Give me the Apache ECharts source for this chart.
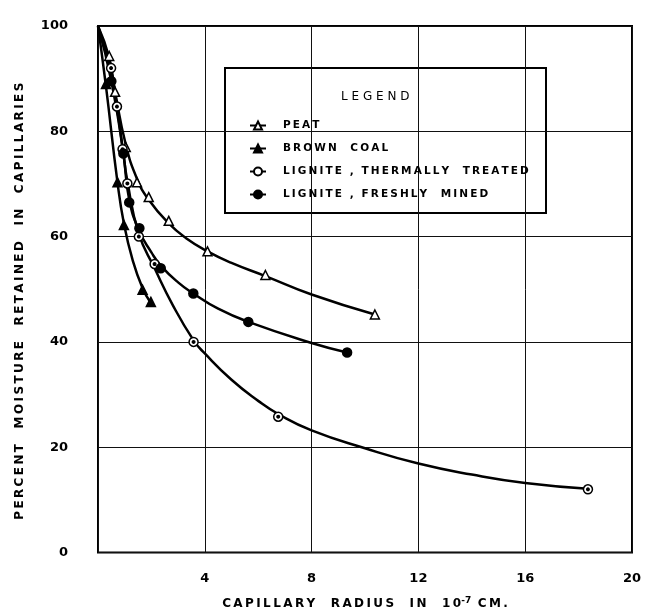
<!DOCTYPE html>
<html>
<head>
<meta charset="utf-8">
<script src="https://cdn.jsdelivr.net/npm/echarts@6/dist/echarts.min.js"></script>
<style>
  html, body { margin: 0; padding: 0; background: #fff; }
  #chart { width: 649px; height: 615px; }
</style>
</head>
<body>
<div id="chart"></div>
<script>
// values: [capillary radius (10^-7 cm), percent moisture]
var seriesNames = ['PEAT', 'BROWN  COAL', 'LIGNITE , THERMALLY  TREATED', 'LIGNITE , FRESHLY  MINED'];

// measured points (markers)
var peat = [[0.42, 94.3], [0.64, 87.5], [1.04, 77], [1.46, 70.3], [1.9, 67.5], [2.65, 63], [4.1, 57.2], [6.27, 52.7], [10.37, 45.2]];
var brownCoal = [[0.3, 89], [0.73, 70.3], [0.97, 62.2], [1.67, 49.9], [1.98, 47.6]];
var ligniteThermal = [[0.49, 92], [0.71, 84.7], [0.92, 76.6], [1.1, 70.1], [1.53, 60], [2.12, 54.8], [3.58, 40], [6.75, 25.8], [18.35, 12]];
var ligniteFresh = [[0.5, 89.5], [0.95, 75.8], [1.17, 66.5], [1.55, 61.6], [2.35, 54], [3.57, 49.2], [5.63, 43.8], [9.33, 38]];

// drawn curves
var peatCurve = [[0, 100], [0.42, 94], [0.64, 87.5], [1.04, 77.5], [1.46, 71], [1.9, 67], [2.65, 62.5], [3.3, 59.7], [4.1, 57.2], [5, 55], [6.27, 52.5], [8, 49], [10.37, 45.2]];
var brownCoalCurve = [[0, 100], [0.3, 88.5], [0.73, 70.3], [0.97, 62.5], [1.3, 55.5], [1.67, 50.2], [1.98, 47.4]];
var ligniteThermalCurve = [[0, 100], [0.49, 91.5], [0.71, 84.5], [0.92, 77], [1.1, 70.5], [1.53, 60.5], [2.12, 54], [2.8, 47], [3.58, 40.3], [4, 37.8], [5, 32.8], [6, 28.8], [6.75, 26.3], [8, 23.2], [10, 19.8], [12, 16.9], [14, 14.8], [16, 13.2], [18.35, 12.1]];
var ligniteFreshCurve = [[0, 100], [0.5, 89.5], [0.95, 75.8], [1.17, 67], [1.55, 61], [2, 57], [2.35, 54.5], [3, 51.3], [3.57, 49.2], [4.5, 46.3], [5.63, 43.8], [8, 39.8], [9.33, 38]];

var xTicks = [0, 4, 8, 12, 16, 20];
var yTicks = [0, 20, 40, 60, 80, 100];

var FONT = 'DejaVu Sans';
var chart = echarts.init(document.getElementById('chart'));

// stencil lettering is widely spaced: put a thin space between letters
function spaced(s) {
  return s.split('').join('\u2009');
}

function curveSeries(name, points, symbol, fill) {
  return {
    name: name,
    type: 'line',
    data: points,
    smooth: 0.5,
    symbol: symbol,
    showSymbol: false,
    lineStyle: { color: '#000', width: 2.5 },
    itemStyle: { color: fill, borderColor: '#000', borderWidth: 1.5 },
    z: 3
  };
}

function markerSeries(points, symbol, fill, size) {
  return {
    type: 'scatter',
    data: points,
    symbol: symbol,
    symbolSize: size,
    silent: true,
    itemStyle: { color: fill, borderColor: '#000', borderWidth: 1.5, opacity: 1 },
    z: 4
  };
}

var option = {
  animation: false,
  backgroundColor: '#fff',
  grid: {
    left: 98, right: 17, top: 26, bottom: 62,
    show: true, borderColor: '#000', borderWidth: 2
  },
  xAxis: {
    type: 'value',
    min: xTicks[0], max: xTicks[xTicks.length - 1], interval: 4,
    name: '{a|' + spaced('CAPILLARY  RADIUS  IN  10') + '}{s|-7}{a|' + spaced(' CM.') + '}',
    nameLocation: 'middle',
    nameGap: 44,
    nameTextStyle: {
      rich: {
        a: { fontFamily: FONT, fontSize: 12, fontWeight: 'bold', color: '#000' },
        s: { fontFamily: FONT, fontSize: 9, fontWeight: 'bold', color: '#000', verticalAlign: 'top', padding: [0, 0, 6, 0] }
      }
    },
    axisLine: { show: false },
    axisTick: { show: false },
    axisLabel: {
      margin: 20, color: '#000', fontFamily: FONT, fontSize: 13, fontWeight: 'bold',
      formatter: function (v) { return v === 0 ? '' : String(v); }
    },
    splitLine: { show: true, lineStyle: { color: '#111', width: 1 } }
  },
  yAxis: {
    type: 'value',
    min: yTicks[0], max: yTicks[yTicks.length - 1], interval: 20,
    name: spaced('PERCENT  MOISTURE  RETAINED  IN  CAPILLARIES'),
    nameLocation: 'middle',
    nameGap: 72,
    nameRotate: 90,
    nameTextStyle: { fontFamily: FONT, fontSize: 12, fontWeight: 'bold', color: '#000', padding: [0, 24, 0, 0] },
    axisLine: { show: false },
    axisTick: { show: false },
    axisLabel: { margin: 30, color: '#000', fontFamily: FONT, fontSize: 13, fontWeight: 'bold' },
    splitLine: { show: true, lineStyle: { color: '#111', width: 1 } }
  },
  legend: {
    data: seriesNames,
    formatter: function (name) { return spaced(name); },
    orient: 'vertical',
    left: 244, top: 115,
    itemWidth: 16, itemHeight: 10, itemGap: 12,
    textStyle: { fontFamily: FONT, fontSize: 10.5, fontWeight: 'bold', color: '#000', padding: [0, 0, 0, 12] },
    inactiveColor: '#000',
    z: 20
  },
  graphic: {
    z: 8,
    elements: [
      {
        type: 'rect', left: 224, top: 67,
        shape: { width: 321, height: 145 },
        style: { fill: '#fff', stroke: '#000', lineWidth: 2 }
      },
      {
        type: 'text', left: 341, top: 91,
        style: { text: 'L E G E N D', fill: '#000', font: '12px "DejaVu Sans"' }
      }
    ]
  },
  series: [
    curveSeries(seriesNames[0], peatCurve, 'triangle', '#fff'),
    curveSeries(seriesNames[1], brownCoalCurve, 'triangle', '#000'),
    curveSeries(seriesNames[2], ligniteThermalCurve, 'circle', '#fff'),
    curveSeries(seriesNames[3], ligniteFreshCurve, 'circle', '#000'),
    markerSeries(peat, 'triangle', '#fff', 9),
    markerSeries(brownCoal, 'triangle', '#000', 9),
    markerSeries(ligniteThermal, 'circle', '#fff', 9),
    markerSeries(ligniteFresh, 'circle', '#000', 9),
    // centre dots of the thermally treated markers
    markerSeries(ligniteThermal, 'circle', '#000', 2.5)
  ]
};

chart.setOption(option);
</script>
</body>
</html>
